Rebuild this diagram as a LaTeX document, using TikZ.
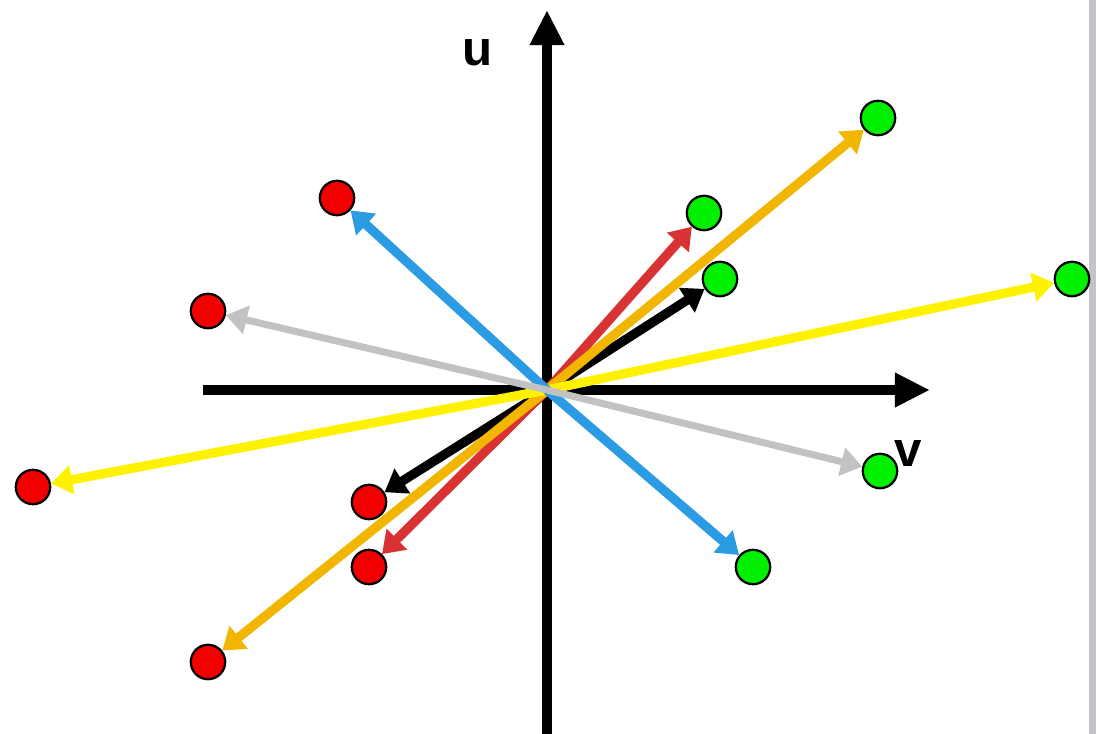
\documentclass[tikz,border=0pt]{standalone}
\usepackage{fontspec}
\setsansfont{Liberation Sans}
\usepackage{xcolor}
\usetikzlibrary{arrows.meta}
\definecolor{vecblue}{HTML}{2B9BE3}
\definecolor{vecred}{HTML}{D83232}
\definecolor{vecorange}{HTML}{F2B500}
\definecolor{vecyellow}{HTML}{FFF200}
\definecolor{vecgray}{HTML}{C2C2C2}
\definecolor{dotgreen}{HTML}{00F000}
\definecolor{dotred}{HTML}{F20000}
\definecolor{sidebar}{HTML}{C3C3C9}

\begin{document}
\begin{tikzpicture}[x=0.025cm, y=-0.025cm,
    axis/.style={line width=7.4pt, -{Triangle[length=25pt, width=23pt]}},
    vec/.style={line width=6.6pt, -{Triangle[length=15pt, width=20pt]}},
    head/.style={circle, draw, line width=1.6pt, fill=dotgreen,
                 minimum size=0.86cm, inner sep=0pt},
    tail/.style={circle, draw, line width=1.6pt, fill=dotred,
                 minimum size=0.86cm, inner sep=0pt},
    lbl/.style={font=\sffamily\bfseries\fontsize{35}{35}\selectfont},
]
    \useasboundingbox (0,0) rectangle (1096,734);
    \fill[sidebar] (1089,0) rectangle (1096,734);

    % axes
    \coordinate (o) at (547,390);
    \coordinate (vs) at (203,390);
    \coordinate (ve) at (930,390);
    \coordinate (us) at (547,734);
    \coordinate (ue) at (547,10);
    \draw[axis] (vs) -- (ve);
    \draw[axis] (us) -- (ue);
    \node[lbl] (ulbl) at (478,53) {u};
    \node[lbl] (vlbl) at (908,453) {v};

    % end points
    \node[head] (g1) at (878,118) {};
    \node[tail] (r1) at (208,662) {};
    \node[head] (g2) at (704,213) {};
    \node[tail] (r2) at (369,567) {};
    \node[head] (g3) at (720,279) {};
    \node[tail] (r3) at (369,502) {};
    \node[head] (g4) at (1072,279) {};
    \node[tail] (r4) at (33,487) {};
    \node[head] (g5) at (753,567) {};
    \node[tail] (r5) at (337,198) {};
    \node[head] (g6) at (880,471) {};
    \node[tail] (r6) at (208,311) {};

    % vectors
    \draw[vec, black] (o) -- (g3);
    \draw[vec, black] (o) -- (r3);
    \draw[vec, vecred] (o) -- (g2);
    \draw[vec, vecred] (o) -- (r2);
    \draw[vec, vecorange] (o) -- (g1);
    \draw[vec, vecorange] (o) -- (r1);
    \draw[vec, vecyellow] (o) -- (g4);
    \draw[vec, vecyellow] (o) -- (r4);
    \draw[vec, vecblue] (o) -- (g5);
    \draw[vec, vecblue] (o) -- (r5);
    \draw[vec, vecgray, line width=5pt] (o) -- (g6);
    \draw[vec, vecgray, line width=5pt] (o) -- (r6);
\end{tikzpicture}
\end{document}
